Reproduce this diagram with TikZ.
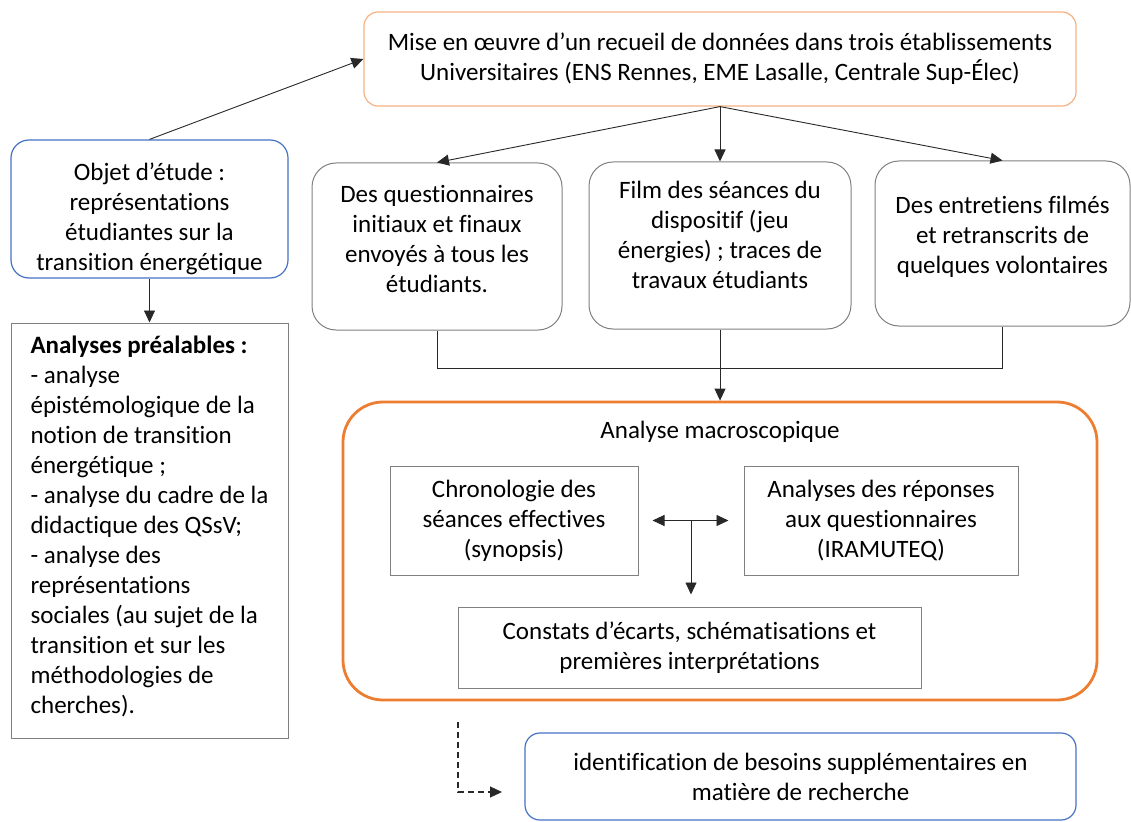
\documentclass[tikz,border=0pt]{standalone}
\usepackage{fontspec}
\setmainfont{Carlito}[Ligatures=NoCommon]
\usetikzlibrary{arrows.meta,calc}
\definecolor{lorange}{RGB}{244,177,131}
\definecolor{dorange}{RGB}{237,125,49}
\definecolor{mblue}{RGB}{68,114,196}
\definecolor{bgray}{RGB}{128,128,128}
\definecolor{lgray}{RGB}{40,40,40}
\tikzset{
  base/.style={align=center, inner sep=0pt},
  rbox/.style={base, draw=bgray, line width=1pt, rounded corners=24pt},
  sbox/.style={base, draw=bgray, line width=1pt},
  tip/.tip={Triangle[length=12pt,width=11pt]},
  arr/.style={draw=lgray, line width=0.9pt, -tip},
  plain/.style={draw=lgray, line width=0.9pt},
}
\begin{document}
\begin{tikzpicture}[x=1pt,y=-1pt,font=\fontsize{25}{30}\selectfont]
\useasboundingbox (0,0) rectangle (1131,821);

\node[base, draw=lorange, line width=1.2pt, rounded corners=14pt, minimum width=712pt, minimum height=94pt] (top) at (720,59)
  {Mise en œuvre d’un recueil de données dans trois établissements\\Universitaires (ENS Rennes, EME Lasalle, Centrale Sup-Élec)};

\node[base, draw=mblue, line width=1.2pt, rounded corners=18pt, minimum width=277pt, minimum height=138pt] (objet) at (149.5,209)
  {\rule{0pt}{38pt}Objet d’étude :\\représentations\\étudiantes sur la\\transition énergétique};

\node[sbox, align=left, minimum width=277pt, minimum height=415pt] (ana) at (149.5,530.5)
  {\textbf{Analyses préalables :}\\- analyse\\épistémologique de la\\notion de transition\\énergétique ;\\- analyse du cadre de la\\didactique des QSsV;\\- analyse des\\représentations\\sociales (au sujet de la\\transition et sur les\\méthodologies de\\cherches).\\[-18pt]};

\node[rbox, minimum width=250pt, minimum height=167pt] (q) at (437,246.5)
  {Des questionnaires\\initiaux et finaux\\envoyés à tous les\\étudiants.\\[-14pt]};
\node[rbox, minimum width=262pt, minimum height=167pt] (film) at (720,245.5)
  {Film des séances du\\dispositif (jeu\\énergies) ; traces de\\travaux étudiants\\[-9pt]};
\node[rbox, minimum width=255pt, minimum height=165pt] (ent) at (1002.5,243.5)
  {Des entretiens filmés\\et retranscrits de\\quelques volontaires\\[-13pt]};

\node[base, draw=dorange, line width=2.8pt, rounded corners=40pt, minimum width=754pt, minimum height=298pt] (macro) at (720,551) {};
\node[base] (title) at (720,432) {Analyse macroscopique};

\node[sbox, minimum width=248pt, minimum height=109pt] (chrono) at (514,520.5)
  {Chronologie des\\séances effectives\\(synopsis)};
\node[sbox, minimum width=274pt, minimum height=109pt] (rep) at (881,520.5)
  {Analyses des réponses\\aux questionnaires\\(IRAMUTEQ)};
\node[sbox, minimum width=463pt, minimum height=81pt] (const) at (689.5,647.5)
  {Constats d’écarts, schématisations et\\premières interprétations};

\node[base, draw=mblue, line width=1.2pt, rounded corners=15pt, minimum width=551pt, minimum height=87pt] (ident) at (800.5,776.5)
  {identification de besoins supplémentaires en\\matière de recherche};

% connectors
\draw[arr] (objet.north) -- (top.west);
\draw[arr] (objet.south) -- (ana.north);
\draw[arr] (top.south) -- (q.north);
\draw[arr] (top.south) -- (film.north);
\draw[arr] (top.south) -- (ent.north);

\coordinate (j) at (720,368);
\draw[plain] (q.south) |- (j);
\draw[plain] (ent.south) |- (j);
\draw[arr] (film.south) -- (macro.north);

\draw[arr, tip-tip, shorten <=14pt, shorten >=15pt] (chrono.east) -- (rep.west);
\coordinate (m) at ($(chrono.east)!0.5!(rep.west)$);
\draw[arr, shorten >=12pt] (m) -- (m |- const.north);

\coordinate (ds) at (458,722);
\coordinate (de) at (502,792);
\draw[arr, line width=1.1pt, dash pattern=on 6pt off 4pt] (ds) |- (de);
\end{tikzpicture}
\end{document}
